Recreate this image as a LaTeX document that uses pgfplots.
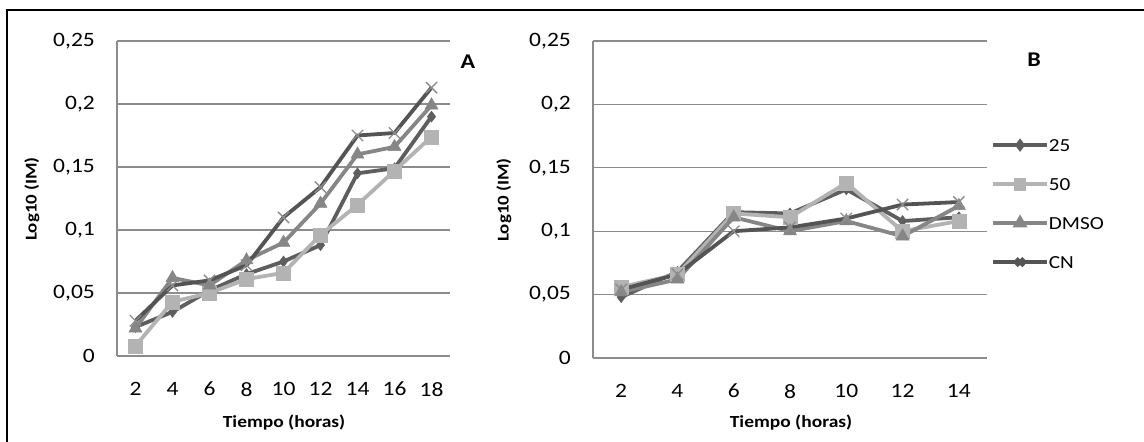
\documentclass[border=0pt]{standalone}
\usepackage{fontspec}
\setmainfont{Carlito}[FakeStretch=1.15]
\usepackage{pgfplots}
\pgfplotsset{compat=1.18}
\definecolor{gridc}{HTML}{8C8C8C}
\definecolor{cA}{HTML}{5E5E5E}
\definecolor{cB}{HTML}{B3B3B3}
\definecolor{cC}{HTML}{868686}
\definecolor{cD}{HTML}{545454}
\pgfplotsset{
  mystyle/.style={
    scale only axis, anchor=south west, clip=false,
    ymin=0, ymax=0.25,
    ytick={0,0.05,0.1,0.15,0.2,0.25},
    yticklabels={0,{0,05},{0,1},{0,15},{0,2},{0,25}},
    ymajorgrids, grid style={gridc, line width=1.3bp},
    axis x line*=bottom, axis y line*=left,
    axis line style={gridc, line width=1.3bp, -},
    major tick length=0pt,
    tick label style={font=\fontsize{20.5}{20.5}\selectfont, inner sep=0pt},
    yticklabel style={xshift=-22bp},
    xticklabel style={yshift=-26bp},
    every axis plot/.append style={line width=3.8bp},
  },
  s25/.style={cA, mark=diamond*, mark size=5.5bp, mark options={fill=cA, draw=cA, line width=0.5bp}},
  s50/.style={cB, mark=square*, mark size=7bp, mark options={fill=cB, draw=cB, line width=0.5bp}},
  sDM/.style={cC, mark=triangle*, mark size=7.5bp, mark options={fill=cC, draw=cC, line width=0.5bp}},
  sCN/.style={cD, mark=x, mark size=8bp, mark options={draw=gridc, line width=1.3bp}},
}
\begin{document}
\begin{tikzpicture}
\useasboundingbox (0,0) rectangle (1144bp,442bp);
\draw[line width=2bp] (7bp,0) -- (7bp,432bp) -- (1144bp,432bp);

\begin{axis}[mystyle, at={(117bp,86bp)}, width=333bp, height=315bp,
  xmin=1, xmax=19, xtick={2,4,...,18}, xticklabels={2,4,6,8,10,12,14,16,18}]
\addplot[s25] coordinates {(2,0.023) (4,0.035) (6,0.052) (8,0.065) (10,0.075) (12,0.088) (14,0.145) (16,0.149) (18,0.190)};
\addplot[s50] coordinates {(2,0.008) (4,0.043) (6,0.050) (8,0.061) (10,0.066) (12,0.096) (14,0.120) (16,0.147) (18,0.174)};
\addplot[sDM] coordinates {(2,0.022) (4,0.062) (6,0.056) (8,0.076) (10,0.090) (12,0.121) (14,0.160) (16,0.166) (18,0.199)};
\addplot[sCN] coordinates {(2,0.028) (4,0.056) (6,0.060) (8,0.072) (10,0.110) (12,0.134) (14,0.175) (16,0.177) (18,0.213)};
\end{axis}

\begin{axis}[mystyle, at={(593bp,84bp)}, width=394bp, height=317bp,
  xmin=1, xmax=15, xtick={2,4,...,14}, xticklabels={2,4,6,8,10,12,14},
  legend cell align=left,
  legend image code/.code={\draw[mark repeat=2, mark phase=2, #1, mark options={scale=0.65}] plot coordinates {(0bp,0bp) (27bp,0bp) (54bp,0bp)};},
  legend style={at={(axis description cs:1.01,0.487)}, anchor=west, draw=none, fill=none,
    font=\fontsize{18.5}{18.5}\selectfont, inner sep=0pt, row sep=27bp,
    nodes={inner sep=0pt, text height=12bp, text depth=0bp},
    /tikz/every even column/.append style={column sep=3bp}}]
\addplot[s25] coordinates {(2,0.048) (4,0.068) (6,0.115) (8,0.114) (10,0.133) (12,0.108) (14,0.111)};
\addplot[s50] coordinates {(2,0.056) (4,0.066) (6,0.114) (8,0.111) (10,0.138) (12,0.100) (14,0.108)};
\addplot[sDM] coordinates {(2,0.052) (4,0.062) (6,0.111) (8,0.100) (10,0.108) (12,0.096) (14,0.120)};
\addplot[sCN] coordinates {(2,0.054) (4,0.066) (6,0.100) (8,0.103) (10,0.110) (12,0.121) (14,0.123)};
\legend{25,50,DMSO,CN}
\end{axis}

\node[font=\bfseries\fontsize{17}{17}\selectfont] at (284bp,19bp) {Tiempo (horas)};
\node[font=\bfseries\fontsize{17}{17}\selectfont] at (791bp,19bp) {Tiempo (horas)};
\node[font=\bfseries\fontsize{16.5}{16.5}\selectfont, rotate=90] at (32bp,243bp) {Log10 (IM)};
\node[font=\bfseries\fontsize{16.5}{16.5}\selectfont, rotate=90] at (504bp,242bp) {Log10 (IM)};
\node[font=\bfseries\fontsize{21}{21}\selectfont] at (468bp,380bp) {A};
\node[font=\bfseries\fontsize{21}{21}\selectfont] at (1034bp,382bp) {B};
\end{tikzpicture}
\end{document}
